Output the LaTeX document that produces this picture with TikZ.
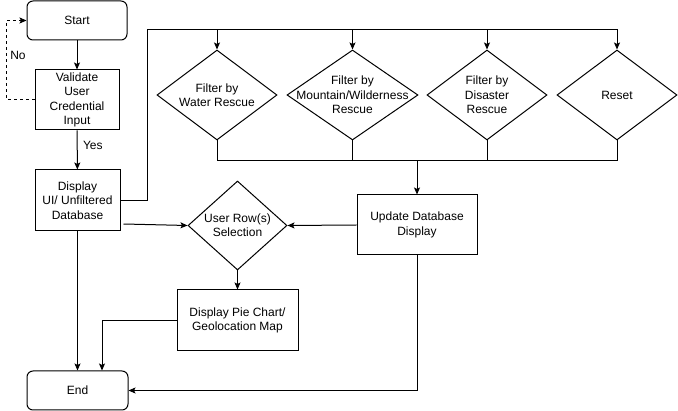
\documentclass[tikz,border=0pt]{standalone}
\usepackage{fontspec}
\setmainfont{Liberation Sans}
\usetikzlibrary{shapes.geometric,arrows.meta}

\begin{document}
\begin{tikzpicture}[x=1pt,y=-1pt,line width=1pt,
  font=\fontsize{12}{14.4}\selectfont,
  >={Stealth[length=7pt,width=6pt,inset=1.5pt]},
  term/.style={draw,rounded corners=6pt,inner sep=0pt,minimum width=100pt,minimum height=39pt},
  proc/.style={draw,align=center,inner sep=0pt},
  dec/.style={draw,diamond,inner sep=0pt,minimum width=120pt,minimum height=90pt}]
\useasboundingbox (0,0) rectangle (678,411);
% left column
\node[term] (start) at (77,20.5) {Start};
\node[proc,minimum width=84pt,minimum height=60pt] (valid) at (77,100) {Validate\\User\\Credential\\Input};
\node[proc,minimum width=85pt,minimum height=61pt] (disp) at (77.5,200.5) {Display\\UI/ Unfiltered\\Database};
\node[term,minimum width=101pt] (fin) at (77.5,390.5) {End};
% filters
\node[dec,label={[align=center]center:Filter by\\Water Rescue}] (water) at (217,95) {};
\node[dec,minimum width=131pt,label={[align=center]center:Filter by\\Mountain/Wilderness\\Rescue}] (mount) at (352.5,95) {};
\node[dec,label={[align=center]center:Filter by\\Disaster\\Rescue}] (disas) at (487,95) {};
\node[dec,label={center:Reset}] (reset) at (617,95) {};
% middle
\node[dec,minimum width=99pt,minimum height=89pt,label={[align=center]center:User Row(s)\\Selection}] (sel) at (237.5,225.5) {};
\node[proc,minimum width=121pt,minimum height=61pt] (pie) at (237.5,320.5) {Display Pie Chart/\\Geolocation Map};
\node[proc,minimum width=120pt,minimum height=60pt] (upd) at (417,225) {Update Database\\Display};
\coordinate (top) at (147,30);
\coordinate (bus) at (417,161);

\draw[->] (start) -- (valid);
\draw[->,dash pattern=on 3pt off 3pt] (valid.west) -- ++(-28,0) |- node[pos=0.28,right] {No} (start.west);
\draw[->] (valid) -- node[pos=0.38,right,xshift=2pt] {Yes} (disp);
\draw[->] (disp.east) -| (top) -| (reset.north);
\foreach \n in {water,mount,disas} { \draw[->] (\n.north |- top) -- (\n.north); }
\draw (water.south) |- (bus -| reset.south) -- (reset.south);
\foreach \n in {mount,disas} { \draw (\n.south) -- (\n.south |- bus); }
\draw[->] (bus) -- (upd.north);
\draw[->] ([xshift=3pt,yshift=-23.5pt]disp.east) -- (sel.west);
\draw[->] (upd.west) -- (sel.east);
\draw[->] (sel.south) -- (pie.north);
\draw[->] (pie.west) -| ([xshift=24.5pt]fin.north);
\draw[->] (disp.south) -- (fin.north);
\draw[->] (upd.south) |- (fin.east);
\end{tikzpicture}
\end{document}
